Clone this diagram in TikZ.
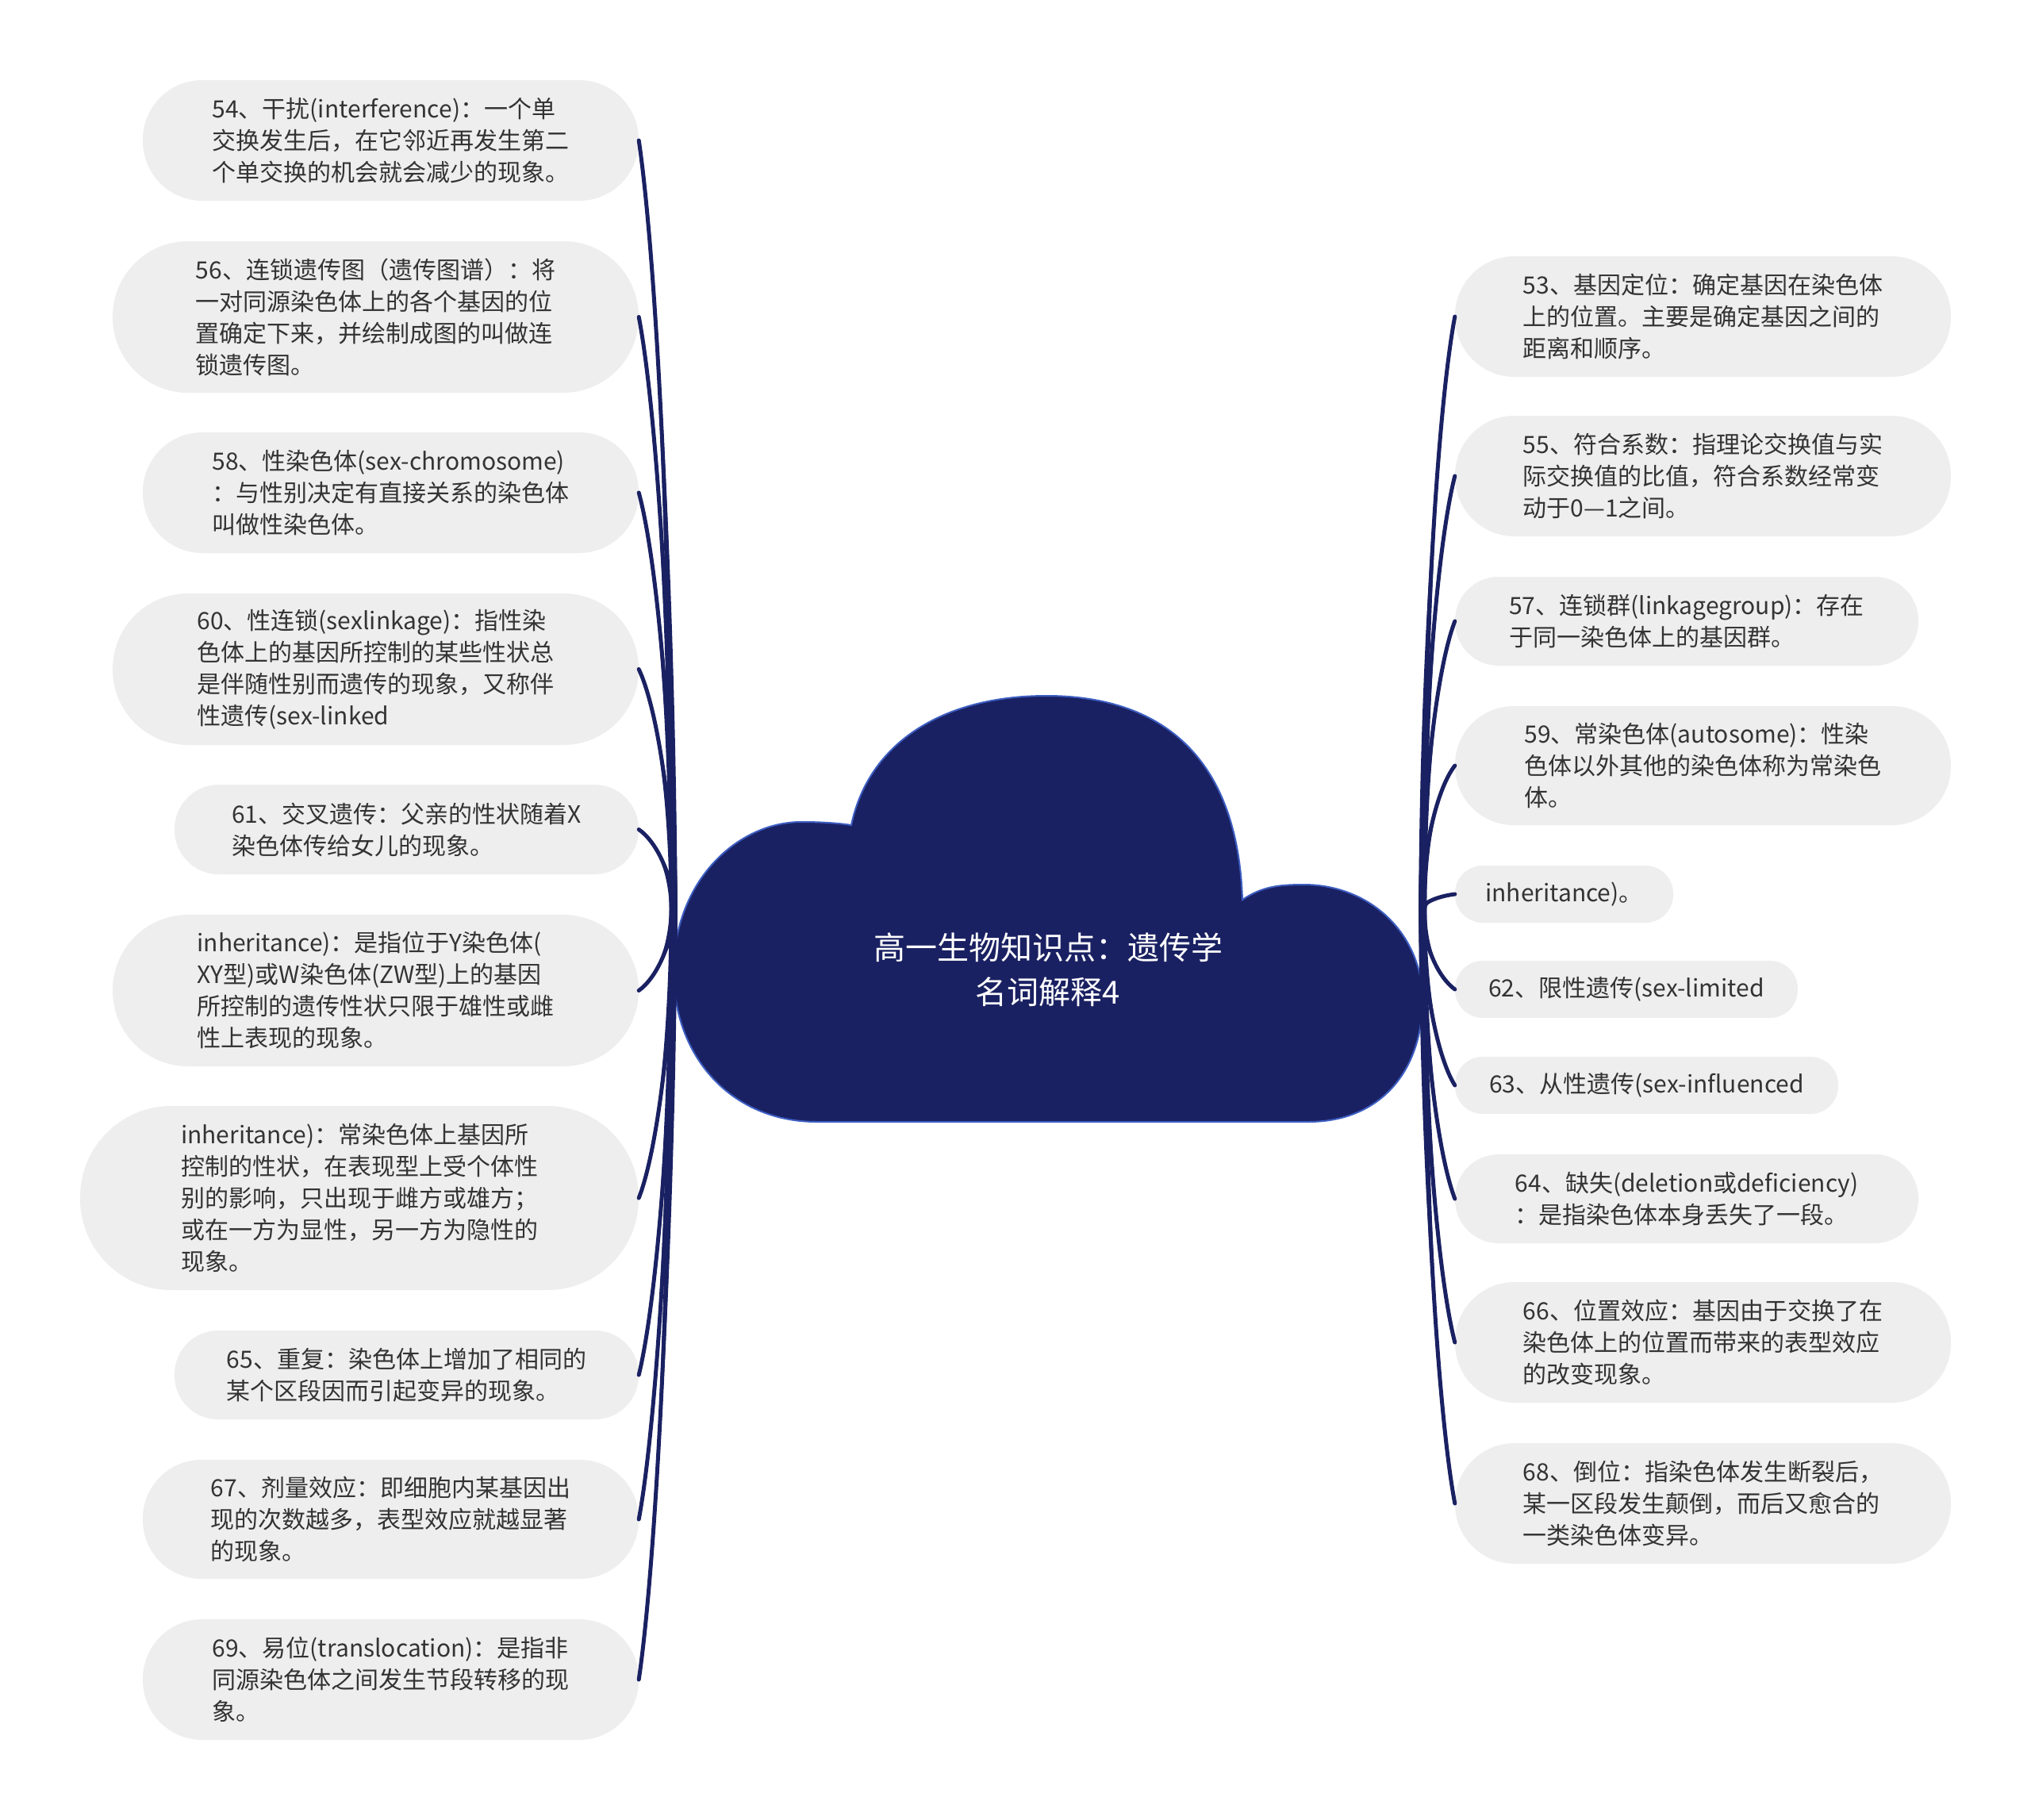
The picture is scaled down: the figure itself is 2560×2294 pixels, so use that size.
\documentclass[tikz,border=0pt]{standalone}
\usepackage{fontspec}
\setmainfont{Noto Sans CJK SC}
\usetikzlibrary{calc}
\definecolor{navy}{HTML}{1A2162}
\definecolor{cloudline}{HTML}{3D5EC2}
\definecolor{pillgray}{HTML}{EEEEEE}
\definecolor{txt}{HTML}{333333}
\tikzset{
  pill/.style n args={3}{fill=pillgray, draw=none, rounded corners=#3,
    minimum width=#1, minimum height=#2, inner sep=0pt, align=left,
    text=txt, font=\fontsize{30}{40}\selectfont},
  conn/.style={draw=navy, line width=5pt, line cap=round},
  taper/.style={fill=navy},
  titlestyle/.style={text=white, align=center, font=\fontsize{40}{56}\selectfont}
}
\newcommand\linkto[3]{%
  \coordinate (c1) at ($(#2)!0.15!(#1) + (#3*15,0)$);
  \coordinate (c2) at ($(#1)!0.45!(#2) + (#3*18,0)$);
  \fill[taper] (#2) .. controls (c1) and ($(c2)+(4,0)$) .. ($(#1)+(5,0)$)
     -- ($(#1)+(-5,0)$) .. controls ($(c2)+(-4,0)$) and (c1) .. (#2) -- cycle;
  \draw[conn] (#2) .. controls (c1) and (c2) .. (#1);}
\begin{document}
\begin{tikzpicture}[x=1pt,y=-1pt]
\useasboundingbox (0,0) rectangle (2560,2294);
\fill[white] (0,0) rectangle (2560,2294);

% cloud
\filldraw[fill=navy, draw=cloudline, line width=2pt]
  (1030,1414) .. controls (920,1414) and (849,1330) .. (849,1225)
  .. controls (849,1110) and (930,1036) .. (1010,1036)
  .. controls (1040,1036) and (1060,1038) .. (1073,1040)
  .. controls (1095,935) and (1190,877) .. (1319,877)
  .. controls (1460,877) and (1560,950) .. (1566,1134)
  .. controls (1590,1118) and (1610,1115) .. (1643,1115)
  .. controls (1730,1115) and (1793,1180) .. (1793,1260)
  .. controls (1793,1350) and (1740,1414) .. (1649,1414) -- cycle;
\node[minimum width=944, minimum height=537, inner sep=0pt] (center) at (1321,1145.5) {};
\node[titlestyle] (title) at (1321,1222) {高一生物知识点：遗传学\\名词解释4};

% left nodes
\node[pill={625}{152}{75}] (L1) at (492.5,177) {54、干扰(interference)：一个单\\交换发生后，在它邻近再发生第二\\个单交换的机会就会减少的现象。};
\node[pill={663}{191}{95}] (L2) at (473.5,399.5) {56、连锁遗传图（遗传图谱）：将\\一对同源染色体上的各个基因的位\\置确定下来，并绘制成图的叫做连\\锁遗传图。};
\node[pill={625}{152}{75}] (L3) at (492.5,621) {58、性染色体(sex-chromosome)\\：与性别决定有直接关系的染色体\\叫做性染色体。};
\node[pill={663}{191}{95}] (L4) at (473.5,843.5) {60、性连锁(sexlinkage)：指性染\\色体上的基因所控制的某些性状总\\是伴随性别而遗传的现象，又称伴\\性遗传(sex-linked};
\node[pill={585}{113}{56}] (L5) at (512.5,1045.5) {61、交叉遗传：父亲的性状随着X\\染色体传给女儿的现象。};
\node[pill={663}{191}{95}] (L6) at (473.5,1248.5) {inheritance)：是指位于Y染色体(\\XY型)或W染色体(ZW型)上的基因\\所控制的遗传性状只限于雄性或雌\\性上表现的现象。};
\node[pill={704}{232}{115}] (L7) at (453,1510) {inheritance)：常染色体上基因所\\控制的性状，在表现型上受个体性\\别的影响，只出现于雌方或雄方；\\或在一方为显性，另一方为隐性的\\现象。};
\node[pill={585}{112}{55}] (L8) at (512.5,1733) {65、重复：染色体上增加了相同的\\某个区段因而引起变异的现象。};
\node[pill={625}{150}{74}] (L9) at (492.5,1915) {67、剂量效应：即细胞内某基因出\\现的次数越多，表型效应就越显著\\的现象。};
\node[pill={625}{152}{75}] (L10) at (492.5,2117) {69、易位(translocation)：是指非\\同源染色体之间发生节段转移的现\\象。};

% right nodes
\node[pill={625}{152}{75}] (R1) at (2146.5,399) {53、基因定位：确定基因在染色体\\上的位置。主要是确定基因之间的\\距离和顺序。};
\node[pill={625}{152}{75}] (R2) at (2146.5,600) {55、符合系数：指理论交换值与实\\际交换值的比值，符合系数经常变\\动于0—1之间。};
\node[pill={584}{112}{55}] (R3) at (2126,783) {57、连锁群(linkagegroup)：存在\\于同一染色体上的基因群。};
\node[pill={625}{150}{74}] (R4) at (2146.5,965) {59、常染色体(autosome)：性染\\色体以外其他的染色体称为常染色\\体。};
\node[pill={275}{72}{35}] (R5) at (1971.5,1127) {inheritance)。};
\node[pill={432}{72}{35}] (R6) at (2050,1247) {62、限性遗传(sex-limited};
\node[pill={483}{72}{35}] (R7) at (2075.5,1368) {63、从性遗传(sex-influenced};
\node[pill={584}{112}{55}] (R8) at (2126,1511) {64、缺失(deletion或deficiency)\\：是指染色体本身丢失了一段。};
\node[pill={625}{152}{75}] (R9) at (2146.5,1692) {66、位置效应：基因由于交换了在\\染色体上的位置而带来的表型效应\\的改变现象。};
\node[pill={625}{152}{75}] (R10) at (2146.5,1895) {68、倒位：指染色体发生断裂后，\\某一区段发生颠倒，而后又愈合的\\一类染色体变异。};

% connectors
\foreach \i in {1,...,10} {\linkto{center.west}{L\i.east}{1}}
\foreach \i in {1,...,10} {\linkto{center.east}{R\i.west}{-1}}
\end{tikzpicture}
\end{document}
